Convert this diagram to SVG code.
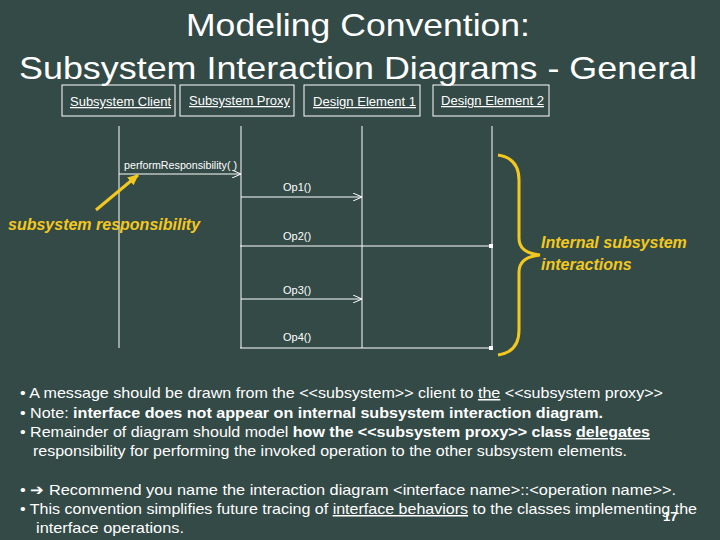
<svg xmlns="http://www.w3.org/2000/svg" width="720" height="540" viewBox="0 0 720 540">
<style>
text{font-family:"Liberation Sans",Arial,sans-serif;fill:#fff}
.box{fill:none;stroke:#fff;stroke-width:1}
.lbl{font-size:12.5px;text-decoration:underline}
.ll{stroke:#fff;stroke-width:1}
.msg{stroke:#fff;stroke-width:1;fill:none}
.m{font-size:11px}
.b{font-size:15px}
.y{fill:#f2c81e;font-style:italic;font-weight:bold;font-size:16px}
</style>
<defs>
<marker id="open" markerWidth="10" markerHeight="8" refX="9" refY="4" orient="auto" markerUnits="userSpaceOnUse"><path d="M0,0 L9,4 L0,8" fill="none" stroke="#fff"/></marker>
<marker id="dot" markerWidth="4" markerHeight="4" refX="2" refY="2" markerUnits="userSpaceOnUse"><rect width="4" height="4" fill="#fff"/></marker>
<marker id="ya" markerWidth="12" markerHeight="10" refX="10" refY="5" orient="auto" markerUnits="userSpaceOnUse"><path d="M0,0 L11,5 L0,10 Z" fill="#f2c81e"/></marker>
</defs>
<rect width="720" height="540" fill="#344a47"/>
<text x="186" y="36" font-size="32" textLength="344" lengthAdjust="spacingAndGlyphs">Modeling Convention:</text>
<text x="19" y="79" font-size="32" textLength="678" lengthAdjust="spacingAndGlyphs">Subsystem Interaction Diagrams - General</text>
<g id="client"><rect class="box" x="62" y="85" width="113" height="31"/><text class="lbl" x="70" y="106" textLength="101" lengthAdjust="spacingAndGlyphs">Subsystem Client</text><line class="ll" x1="119" y1="126" x2="119" y2="348"/></g>
<g id="proxy"><rect class="box" x="180" y="85" width="114" height="31"/><text class="lbl" x="189" y="105" textLength="101" lengthAdjust="spacingAndGlyphs">Subsystem Proxy</text><line class="ll" x1="241" y1="126" x2="241" y2="348"/></g>
<g id="de1"><rect class="box" x="304" y="85" width="116" height="31"/><text class="lbl" x="313" y="106" textLength="103" lengthAdjust="spacingAndGlyphs">Design Element 1</text><line class="ll" x1="362" y1="126" x2="362" y2="348"/></g>
<g id="de2"><rect class="box" x="433" y="85" width="116" height="31"/><text class="lbl" x="441" y="105" textLength="103" lengthAdjust="spacingAndGlyphs">Design Element 2</text><line class="ll" x1="492" y1="126" x2="492" y2="348"/></g>
<g id="connectors">
<line class="msg" x1="119" y1="174" x2="241" y2="174" marker-end="url(#open)"/>
<text class="m" x="124" y="169" textLength="113" lengthAdjust="spacingAndGlyphs">performResponsibility( )</text>
<line class="msg" x1="241" y1="197" x2="362" y2="197" marker-end="url(#open)"/>
<text class="m" x="283" y="191">Op1()</text>
<line class="msg" x1="240" y1="246" x2="491" y2="246" stroke-width="1.5" marker-end="url(#dot)"/>
<text class="m" x="283" y="240">Op2()</text>
<line class="msg" x1="241" y1="299" x2="362" y2="299" marker-end="url(#open)"/>
<text class="m" x="283" y="294">Op3()</text>
<line class="msg" x1="240" y1="348" x2="491" y2="348" stroke-width="1.5" marker-end="url(#dot)"/>
<text class="m" x="283" y="341">Op4()</text>
<line x1="96" y1="210" x2="138" y2="175" stroke="#f2c81e" stroke-width="3" marker-end="url(#ya)"/>
<path d="M498,155 Q519,158 519,180 L519,238 Q519,253 540,255 Q519,257 519,272 L519,330 Q519,352 498,355" fill="none" stroke="#f2c81e" stroke-width="3"/>
</g>
<text class="y" x="8" y="230">subsystem responsibility</text>
<text class="y" x="541" y="248">Internal subsystem</text>
<text class="y" x="541" y="270">interactions</text>
<text class="b" x="20" y="398" textLength="643" lengthAdjust="spacingAndGlyphs">• A message should be drawn from the &lt;&lt;subsystem&gt;&gt; client to <tspan text-decoration="underline">the</tspan> &lt;&lt;subsystem proxy&gt;&gt;</text>
<text class="b" x="20" y="418" textLength="583" lengthAdjust="spacingAndGlyphs">• Note:  <tspan font-weight="bold">interface does not appear on internal subsystem interaction diagram.</tspan></text>
<text class="b" x="20" y="437" textLength="630" lengthAdjust="spacingAndGlyphs">• Remainder of diagram should model <tspan font-weight="bold">how the &lt;&lt;subsystem proxy&gt;&gt; class <tspan text-decoration="underline">delegates</tspan></tspan></text>
<text class="b" x="33" y="456" textLength="594" lengthAdjust="spacingAndGlyphs">responsibility for performing the invoked operation to the other subsystem elements.</text>
<text class="b" x="20" y="495" textLength="656" lengthAdjust="spacingAndGlyphs">•  ➔  Recommend you name the interaction diagram &lt;interface name&gt;::&lt;operation name&gt;&gt;.</text>
<text class="b" x="20" y="514" textLength="677" lengthAdjust="spacingAndGlyphs">• This convention simplifies future tracing of <tspan text-decoration="underline">interface behaviors</tspan> to the classes implementing the</text>
<text class="b" x="36" y="533" textLength="148" lengthAdjust="spacingAndGlyphs">interface operations.</text>
<text x="663" y="521" font-size="13" font-weight="bold">17</text>
</svg>
